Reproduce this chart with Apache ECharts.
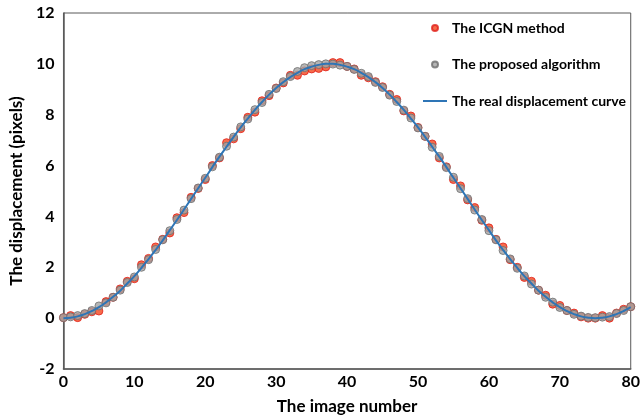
<!DOCTYPE html>
<html>
<head>
  <meta charset="utf-8">
  <title>Displacement curve</title>
  <script src="https://cdn.jsdelivr.net/npm/echarts@6/dist/echarts.min.js"></script>
  <style>
    html, body { margin: 0; padding: 0; background: #fff; }
    #chart { width: 643px; height: 420px; }
  </style>
</head>
<body>
  <div id="chart"></div>
  <script>
    // values, one per image (0 .. 80)
    var realCurve = [
      0, 0.02, 0.07, 0.16, 0.28, 0.43, 0.62, 0.84, 1.08, 1.36, 1.65,
      1.98, 2.32, 2.68, 3.06, 3.46, 3.86, 4.27, 4.69, 5.11, 5.52,
      5.94, 6.35, 6.74, 7.13, 7.5, 7.85, 8.19, 8.5, 8.79, 9.05,
      9.28, 9.48, 9.65, 9.79, 9.89, 9.96, 10.0, 10.0, 9.96, 9.89,
      9.79, 9.65, 9.48, 9.28, 9.05, 8.79, 8.5, 8.19, 7.85, 7.5,
      7.13, 6.74, 6.35, 5.94, 5.52, 5.11, 4.69, 4.27, 3.86, 3.46,
      3.06, 2.68, 2.32, 1.98, 1.65, 1.36, 1.08, 0.84, 0.62, 0.43,
      0.28, 0.16, 0.07, 0.02, 0, 0.02, 0.07, 0.16, 0.28, 0.43
    ];
    var proposed = [
      0.02, 0.05, 0.1, 0.18, 0.3, 0.48, 0.6, 0.82, 1.1, 1.4, 1.62,
      2.0, 2.3, 2.7, 3.08, 3.44, 3.88, 4.25, 4.7, 5.12, 5.5,
      5.95, 6.33, 6.76, 7.12, 7.52, 7.83, 8.2, 8.48, 8.8, 9.03,
      9.3, 9.5, 9.7, 9.85, 9.93, 9.97, 10.0, 9.99, 9.95, 9.9,
      9.78, 9.63, 9.5, 9.27, 9.07, 8.77, 8.52, 8.18, 7.87, 7.48,
      7.15, 6.72, 6.36, 5.92, 5.54, 5.09, 4.7, 4.25, 3.88, 3.44,
      3.08, 2.66, 2.33, 1.96, 1.66, 1.34, 1.1, 0.82, 0.63, 0.42,
      0.3, 0.15, 0.08, 0.03, 0.02, 0.04, 0.06, 0.18, 0.3, 0.45
    ];
    var icgn = [
      0.02, 0.1, 0.02, 0.15, 0.25, 0.28, 0.65, 0.82, 1.15, 1.45, 1.55,
      2.1, 2.35, 2.8, 3.1, 3.35, 3.95, 4.15, 4.75, 5.1, 5.45,
      6.0, 6.3, 6.9, 7.05, 7.45, 7.9, 8.1, 8.55, 8.75, 9.05,
      9.25, 9.55, 9.55, 9.72, 9.8, 9.82, 9.88, 10.05, 10.05, 9.9,
      9.8, 9.55, 9.45, 9.3, 9.1, 8.8, 8.6, 8.15, 7.95, 7.5,
      7.15, 6.85, 6.3, 5.95, 5.45, 5.2, 4.65, 4.35, 3.85, 3.55,
      3.1, 2.8, 2.3, 2.0, 1.6, 1.45, 1.1, 0.9, 0.55, 0.5,
      0.3, 0.2, 0.05, 0.0, 0.0, 0.1, 0.0, 0.2, 0.35, 0.45
    ];
    var yTicks = [-2, 0, 2, 4, 6, 8, 10, 12];
    var xTicks = [0, 10, 20, 30, 40, 50, 60, 70, 80];

    function pairs(vals) {
      return vals.map(function (v, i) { return [i, v]; });
    }

    var font = 'Lato, "Open Sans", sans-serif';
    var axisColor = '#595959';

    var chart = echarts.init(document.getElementById('chart'));
    chart.setOption({
      animation: false,
      grid: {
        left: 55, right: 6, top: 13, bottom: 48,
        show: true, borderColor: axisColor, borderWidth: 1
      },
      legend: {
        orient: 'vertical',
        left: 423, top: 21,
        padding: 0,
        itemWidth: 24, itemHeight: 6, itemGap: 22.5,
        symbolKeepAspect: true,
        textStyle: { fontFamily: font, fontWeight: 'bold', fontSize: 14, color: '#000' },
        data: [
          { name: 'The ICGN method', icon: 'circle' },
          { name: 'The proposed algorithm', icon: 'circle' },
          { name: 'The real displacement curve', icon: 'path://M0,0H24V2H0Z' }
        ]
      },
      xAxis: {
        type: 'value',
        min: xTicks[0], max: xTicks[xTicks.length - 1], interval: 10,
        name: 'The image number',
        nameLocation: 'middle', nameGap: 29,
        nameTextStyle: { fontFamily: font, fontWeight: 'bold', fontSize: 17, color: '#000' },
        axisLine: { onZero: false, lineStyle: { color: axisColor, width: 1.5 } },
        axisTick: { show: false },
        splitLine: { show: false },
        axisLabel: { fontFamily: font, fontWeight: 'bold', fontSize: 16, color: '#000', margin: 5 }
      },
      yAxis: {
        type: 'value',
        min: yTicks[0], max: yTicks[yTicks.length - 1], interval: 2,
        name: 'The displacement (pixels)',
        nameLocation: 'middle', nameGap: 32,
        nameTextStyle: { fontFamily: font, fontWeight: 'bold', fontSize: 17, color: '#000' },
        axisLine: { show: true, onZero: false, lineStyle: { color: axisColor, width: 1.5 } },
        axisTick: { show: false },
        splitLine: { show: false },
        axisLabel: { fontFamily: font, fontWeight: 'bold', fontSize: 16, color: '#000', margin: 9 }
      },
      series: [
        {
          name: 'The ICGN method',
          type: 'scatter',
          symbolSize: 8,
          itemStyle: { color: '#F4461E', borderColor: '#E0201A', borderWidth: 1 },
          data: pairs(icgn),
          z: 2
        },
        {
          name: 'The proposed algorithm',
          type: 'scatter',
          symbolSize: 8,
          itemStyle: { color: '#A3A3A3', borderColor: '#6E6E6E', borderWidth: 1 },
          data: pairs(proposed),
          z: 3
        },
        {
          name: 'The real displacement curve',
          type: 'line',
          showSymbol: false,
          symbol: 'none',
          smooth: true,
          lineStyle: { color: '#2E75B6', width: 2 },
          itemStyle: { color: '#2E75B6' },
          data: pairs(realCurve),
          z: 4
        }
      ]
    });
  </script>
</body>
</html>
